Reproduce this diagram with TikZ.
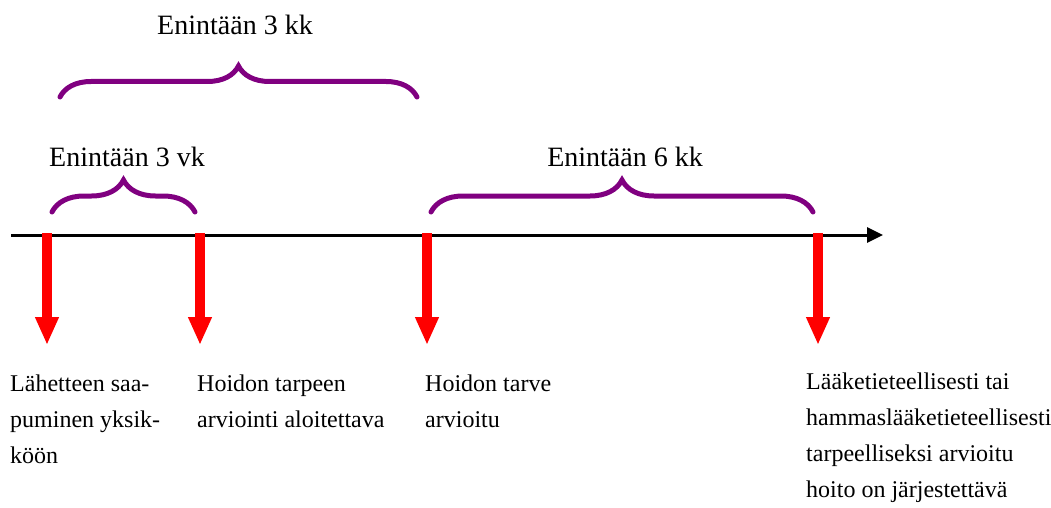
\documentclass[tikz,border=0pt]{standalone}
\usepackage{fontspec}
\setmainfont{Liberation Serif}
\usetikzlibrary{arrows.meta,decorations.pathreplacing}

\definecolor{bracepurple}{RGB}{128,0,128}

\tikzset{
  aika/.style={bracepurple, line width=5pt, line cap=round,
    decorate, decoration={brace, amplitude=#1}},
  aika/.default=32pt,
  merkki/.style={red, line width=10pt, -{Triangle[width=22pt,length=28pt]}},
  otsikko/.style={font=\fontsize{28}{32}\selectfont},
  selite/.style={anchor=north west, inner sep=0pt, align=left,
    font=\fontsize{24}{36}\selectfont}
}

\begin{document}
\begin{tikzpicture}[x=1pt,y=-1pt]

\useasboundingbox (0,0) rectangle (1051,508);

\coordinate (S) at (11,235);
\coordinate (E) at (883,235);

\coordinate (A1) at (47,233);
\coordinate (A2) at (47,345);
\coordinate (B1) at (200,233);
\coordinate (B2) at (200,345);
\coordinate (C1) at (427,233);
\coordinate (C2) at (427,345);
\coordinate (D1) at (818,233);
\coordinate (D2) at (818,345);

\coordinate (P1) at (52,212);
\coordinate (P2) at (195,212);
\coordinate (Q1) at (60,97);
\coordinate (Q2) at (417,97);
\coordinate (R1) at (431,212);
\coordinate (R2) at (813,212);

% aikajana
\draw [line width=3pt, -{Triangle[width=15pt,length=16pt]}] (S)--(E);

\draw [merkki] (A1)--(A2);
\draw [merkki] (B1)--(B2);
\draw [merkki] (C1)--(C2);
\draw [merkki] (D1)--(D2);

% sulkeet
\draw [aika] (P1)--(P2);
\draw [aika=31pt] (Q1)--(Q2);
\draw [aika] (R1)--(R2);

\node [otsikko] (kk3) at (235,25) {Enintään 3 kk};
\node [otsikko] (vk3) at (127,157) {Enintään 3 vk};
\node [otsikko] (kk6) at (625,157) {Enintään 6 kk};

\node [selite] (lahete) at (10,375) {Lähetteen saa-\\puminen yksik-\\köön};
\node [selite] (arviointi) at (197,375) {Hoidon tarpeen\\arviointi aloitettava};
\node [selite] (arvioitu) at (425,375) {Hoidon tarve\\arvioitu};
\node [selite] (hoito) at (806,373) {Lääketieteellisesti tai\\hammaslääketieteellisesti\\tarpeelliseksi arvioitu\\hoito on järjestettävä};

\end{tikzpicture}
\end{document}
